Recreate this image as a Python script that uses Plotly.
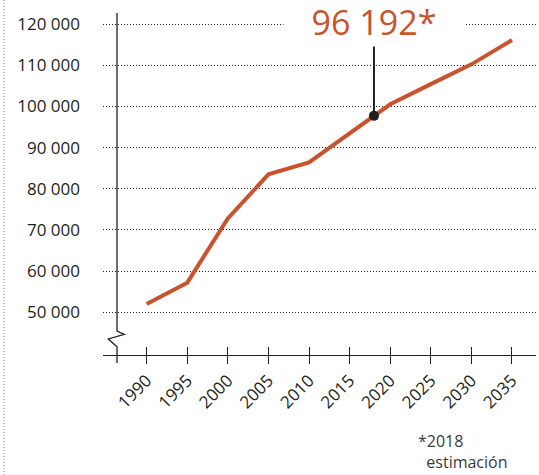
import plotly.graph_objects as go

# ---- data ----
YEARS = [1990, 1995, 2000, 2005, 2010, 2015, 2020, 2025, 2030, 2035]
VALUES = [52000, 57200, 72800, 83500, 86400, 93400, 100500, 105400, 110200, 116100]
Y_TICKS = [50000, 60000, 70000, 80000, 90000, 100000, 110000, 120000]
Y_TICK_LABELS = ["50 000", "60 000", "70 000", "80 000", "90 000", "100 000", "110 000", "120 000"]
HIGHLIGHT_YEAR = 2018
HIGHLIGHT_VALUE = 97700
HIGHLIGHT_LABEL = "96 192*"
FOOT_1 = "*2018"
FOOT_2 = "estimación"

ORANGE = "#C9532C"
DARK = "#231F20"
W, H = 539, 475
L, R, T, B = 103, 3, 13, 120
PW, PH = W - L - R, H - T - B


def px_x(p):
    return (p - L) / PW


def px_y(p):
    return (H - B - p) / PH


fig = go.Figure()
fig.add_trace(go.Scatter(x=YEARS, y=VALUES, mode="lines",
                         line=dict(color=ORANGE, width=4), hoverinfo="skip"))
fig.add_trace(go.Scatter(x=[HIGHLIGHT_YEAR], y=[HIGHLIGHT_VALUE], mode="markers",
                         marker=dict(color=DARK, size=10), hoverinfo="skip"))
# invisible trace to create overlaid axis for outside ticks
fig.add_trace(go.Scatter(x=YEARS, y=VALUES, xaxis="x2", mode="lines",
                         line=dict(width=0), opacity=0, hoverinfo="skip"))

xr = [1984.62, 2037.96]
fig.update_layout(
    width=W, height=H,
    margin=dict(l=L, r=R, t=T, b=B),
    paper_bgcolor="white", plot_bgcolor="white",
    showlegend=False,
    font=dict(family="Open Sans", color=DARK, size=17),
    xaxis=dict(range=xr, tickvals=YEARS, showticklabels=False, ticks="inside",
               ticklen=8, tickwidth=1.3, tickcolor=DARK, showgrid=False,
               zeroline=False, showline=True, linecolor=DARK, linewidth=1.3),
    xaxis2=dict(range=xr, overlaying="x", side="bottom", anchor="y",
                tickvals=YEARS, ticktext=[str(y) for y in YEARS],
                ticks="outside", ticklen=8, tickwidth=1.3, tickcolor=DARK,
                tickangle=-45, tickfont=dict(size=17, color=DARK),
                showgrid=False, zeroline=False, showline=False),
    yaxis=dict(range=[39633, 122670], tickvals=Y_TICKS, ticktext=Y_TICK_LABELS,
               showgrid=True, gridcolor="#222222", griddash="1px,2px", gridwidth=1.1,
               zeroline=False, showline=False, ticks="",
               ticklabelstandoff=22, tickfont=dict(size=17, color=DARK)),
)

# y axis line with break
ax = 117
path = (f"M {px_x(ax)},{px_y(13)} L {px_x(ax)},{px_y(331)} "
        f"L {px_x(124.3)},{px_y(334.3)} L {px_x(108.3)},{px_y(339)} "
        f"L {px_x(ax)},{px_y(346.7)} L {px_x(ax)},{px_y(363)}")
fig.add_shape(type="path", path=path, xref="paper", yref="paper",
              line=dict(color=DARK, width=1.3))

# left dotted border
fig.add_shape(type="line", xref="paper", yref="paper",
              x0=px_x(4), x1=px_x(4), y0=px_y(0), y1=px_y(H),
              line=dict(color="#9a9a9a", width=1.2, dash="1px,2px"))

# highlight stem
fig.add_shape(type="line", xref="x", yref="y",
              x0=HIGHLIGHT_YEAR, x1=HIGHLIGHT_YEAR, y0=HIGHLIGHT_VALUE, y1=115700,
              line=dict(color=DARK, width=2), layer="below")

fig.add_annotation(x=HIGHLIGHT_YEAR, y=Y_TICKS[-1], xref="x", yref="y",
                   text=HIGHLIGHT_LABEL, showarrow=False, xanchor="center",
                   yanchor="middle", yshift=2, bgcolor="white", width=178,
                   font=dict(size=34, color=ORANGE, family="Open Sans"))

# footnote: one two-line annotation, second line indented past the asterisk
fig.add_annotation(x=px_x(416.5), y=px_y(429), xref="paper", yref="paper",
                   text=FOOT_1 + "<br>" + "\u00a0\u00a0" + FOOT_2,
                   showarrow=False, xanchor="left", yanchor="top", align="left",
                   borderpad=0, font=dict(size=16, color="#3a3a3a"))

fig.write_html("out.html",
               config={"displayModeBar": False},
               post_script="document.body.style.margin='0';"
                           "document.body.style.overflow='hidden';")
